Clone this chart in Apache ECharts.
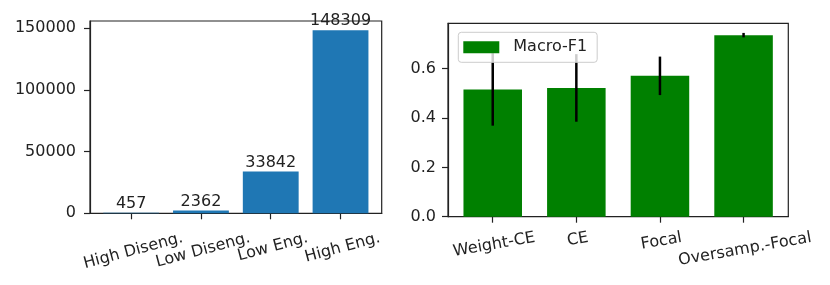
<!DOCTYPE html>
<html><head><meta charset="utf-8">
<script src="https://cdn.jsdelivr.net/npm/echarts@6/dist/echarts.min.js"></script>
<style>html,body{margin:0;padding:0;background:#fff}#c{width:830px;height:285px}</style>
</head><body><div id="c"></div>
<script>
// ---- data ----
const engCategories = ['High Diseng.', 'Low Diseng.', 'Low Eng.', 'High Eng.'];
const engCounts = [457, 2362, 33842, 148309];
const engTicks = [0, 50000, 100000, 150000];
const lossCategories = ['Weight-CE', 'CE', 'Focal', 'Oversamp.-Focal'];
const macroF1 = [0.516, 0.522, 0.571, 0.736];
const macroF1Err = [0.147, 0.137, 0.078, 0.009];
const f1Ticks = [0, 0.2, 0.4, 0.6];

// ---- style ----
const FONT = 'DejaVu Sans';
const FS = 16;
const TXT = '#222';
const AX = '#222';

const leftGrid = { left: 90, top: 21, width: 291.7, height: 192.3 };
const rightGrid = { left: 448, top: 23.3, width: 340.3, height: 193.4 };
const leftX = [-0.59, 3.59];
const rightX = [-0.535, 3.535];
const leftYMax = 155724;
const rightYMax = 0.784;

const ctx = document.createElement('canvas').getContext('2d');
ctx.font = FS + 'px "' + FONT + '"';
function richFor(cats, rot) {
  const rich = {};
  const t = rot * Math.PI / 180;
  cats.forEach((c, i) => {
    const w = ctx.measureText(c).width;
    const pt = w / 2 * Math.sin(t) * Math.cos(t);
    const pr = 2 * pt * Math.tan(t);
    rich['l' + i] = { padding: [pt, pr, 0, 0],
      fontSize: FS, fontFamily: FONT, color: TXT };
  });
  return rich;
}
const idx = engCategories.map((_, i) => i);

function xAxisFor(gridIndex, ext, cats, margin, rot) {
  return {
    type: 'value', gridIndex, min: ext[0], max: ext[1],
    splitLine: { show: false },
    axisLine: { show: true, onZero: false, lineStyle: { color: AX, width: 1.2 } },
    axisTick: { show: true, customValues: idx, length: 6, lineStyle: { color: AX, width: 1.2 } },
    axisLabel: { show: true, customValues: idx, rotate: rot, align: 'center', verticalAlign: 'top',
      showMinLabel: true, showMaxLabel: true, hideOverlap: false,
      margin, formatter: v => { const i = Math.round(v); return '{l' + i + '|' + cats[i] + '}'; },
      rich: richFor(cats, rot), fontSize: FS, fontFamily: FONT, color: TXT }
  };
}
function yAxisFor(gridIndex, max, ticks, fmt, margin) {
  return {
    type: 'value', gridIndex, min: 0, max, interval: ticks[1] - ticks[0],
    splitLine: { show: false },
    axisLine: { show: true, onZero: false, lineStyle: { color: AX, width: 1.2 } },
    axisTick: { show: true, length: 6, lineStyle: { color: AX, width: 1.2 } },
    axisLabel: { showMaxLabel: false, margin, formatter: fmt, fontSize: FS, fontFamily: FONT, color: TXT }
  };
}
const unitL = leftGrid.width / (leftX[1] - leftX[0]);
const unitR = rightGrid.width / (rightX[1] - rightX[0]);

const chart = echarts.init(document.getElementById('c'), null, { renderer: 'canvas' });
chart.setOption({
  animation: false,
  backgroundColor: '#fff',
  textStyle: { fontFamily: FONT },
  grid: [
    Object.assign({ show: true, borderColor: AX, borderWidth: 1.2, backgroundColor: 'transparent', containLabel: false, outerBoundsMode: 'none' }, leftGrid),
    Object.assign({ show: true, borderColor: AX, borderWidth: 1.2, backgroundColor: 'transparent', containLabel: false, outerBoundsMode: 'none' }, rightGrid)
  ],
  legend: {
    data: ['Macro-F1'], left: 458.3, top: 32.3,
    padding: [7, 10, 7, 5], itemWidth: 36, itemHeight: 12, itemGap: 0,
    icon: 'rect',
    backgroundColor: 'rgba(255,255,255,0.8)', borderColor: '#cccccc', borderWidth: 1, borderRadius: 3,
    textStyle: { fontSize: FS, fontFamily: FONT, color: TXT, padding: [0, 0, 0, 9] }
  },
  xAxis: [
    xAxisFor(0, leftX, engCategories, 16.7, 15),
    xAxisFor(1, rightX, lossCategories, 13, 10)
  ],
  yAxis: [
    yAxisFor(0, leftYMax, engTicks, v => String(Math.round(v)), 14),
    yAxisFor(1, rightYMax, f1Ticks, v => v.toFixed(1), 12)
  ],
  series: [
    {
      type: 'bar', xAxisIndex: 0, yAxisIndex: 0,
      data: engCounts.map((v, i) => [i, v]),
      barWidth: 0.8 * unitL,
      itemStyle: { color: '#1f77b4' },
      label: { show: true, position: 'top', distance: 1, fontSize: FS, fontFamily: FONT, color: TXT,
        formatter: p => String(p.value[1]) }
    },
    {
      name: 'Macro-F1', type: 'bar', xAxisIndex: 1, yAxisIndex: 1,
      data: macroF1.map((v, i) => [i, v]),
      barWidth: 0.7 * unitR,
      itemStyle: { color: '#008000' }
    },
    {
      name: 'err', type: 'custom', xAxisIndex: 1, yAxisIndex: 1, z: 3,
      data: macroF1.map((v, i) => [i, v - macroF1Err[i], v + macroF1Err[i]]),
      encode: { x: 0, y: [1, 2] },
      renderItem: (params, api) => {
        const x = api.value(0);
        const p1 = api.coord([x, api.value(1)]);
        const p2 = api.coord([x, api.value(2)]);
        return { type: 'line', shape: { x1: p1[0], y1: p1[1], x2: p2[0], y2: p2[1] },
          style: { stroke: '#000', lineWidth: 2.5 } };
      }
    }
  ]
});
</script>
</body></html>
